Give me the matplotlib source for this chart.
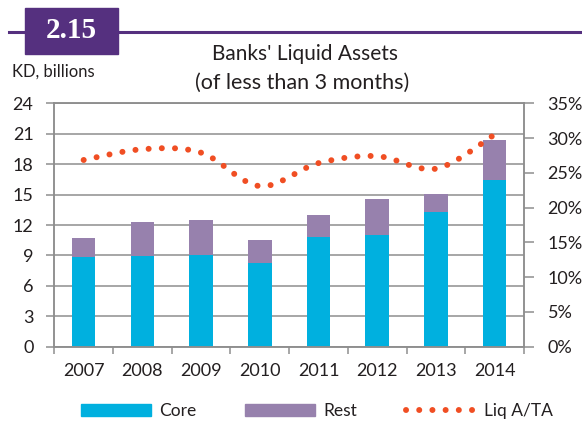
import numpy as np
import matplotlib
matplotlib.use("Agg")
from matplotlib import pyplot as plt
from matplotlib.path import Path
from matplotlib.patches import PathPatch, Patch, Rectangle
from matplotlib.lines import Line2D

plt.rcParams['font.family'] = ['Lato', 'DejaVu Sans']

# data
years = ['2007', '2008', '2009', '2010', '2011', '2012', '2013', '2014']
core = [8.8, 8.97, 9.07, 8.22, 10.82, 10.98, 13.31, 16.4]
rest = [1.9, 3.36, 3.39, 2.33, 2.2, 3.58, 1.71, 3.98]
liq_ratio = [26.85, 28.4, 27.9, 23.1, 26.4, 27.4, 25.6, 30.5]

core_col = '#00B0DF'
rest_col = '#9781AD'
line_col = '#F04E23'
purple = '#55307F'
grid_col = '#8E8E8E'
txt_col = '#231F20'

fig = plt.figure(figsize=(5.82, 4.21), dpi=100)
ax = fig.add_axes([0.0933, 0.1765, 0.9003 - 0.0933, 0.7546 - 0.1765])
ax2 = ax.twinx()

x = np.arange(len(years))
ax.bar(x, core, width=0.4, color=core_col, zorder=2)
ax.bar(x, rest, width=0.4, bottom=core, color=rest_col, zorder=2)

ax.set_xlim(-0.5, 7.5)
ax.set_ylim(0, 24)
ax.set_yticks(np.arange(0, 25, 3))
ax.set_xticks(x)
ax.set_xticklabels(years)
ax.set_xticks(np.arange(-0.5, 8, 1), minor=True)
ax.tick_params(axis='x', which='major', length=0, pad=12, labelsize=13, labelcolor=txt_col)
ax.tick_params(axis='x', which='minor', length=5, width=1.1, color=grid_col, direction='out')
ax.tick_params(axis='y', length=6, width=1.1, color=grid_col, pad=9, labelsize=13, labelcolor=txt_col)
ax.grid(axis='y', color=grid_col, lw=1.1, zorder=0)
ax.set_axisbelow(True)

ax2.set_ylim(0, 35)
ax2.set_yticks(np.arange(0, 36, 5))
ax2.set_yticklabels([f'{v}%' for v in range(0, 36, 5)])
ax2.tick_params(axis='y', length=7, width=1.1, color=grid_col, pad=10, labelsize=13, labelcolor=txt_col)

for a in (ax, ax2):
    for s in a.spines.values():
        s.set_color(grid_col)
        s.set_linewidth(1.1)

# smoothed line (catmull-rom -> bezier, like the excel smoothed line)
pts = np.column_stack([x, liq_ratio]).astype(float)
verts = [pts[0]]
codes = [Path.MOVETO]
for i in range(len(pts) - 1):
    p0 = pts[i - 1] if i > 0 else pts[i]
    p1 = pts[i]
    p2 = pts[i + 1]
    p3 = pts[i + 2] if i + 2 < len(pts) else pts[i + 1]
    c1 = p1 + (p2 - p0) / 6
    c2 = p2 - (p3 - p1) / 6
    verts += [c1, c2, p2]
    codes += [Path.CURVE4] * 3
dot_style = (0, (0.01, 2.2))
curve = PathPatch(Path(verts, codes), fill=False, edgecolor=line_col, lw=4.3,
                  linestyle=dot_style, capstyle='round', zorder=3)
ax2.add_patch(curve)

# header
fig.add_artist(Line2D([9 / 582, 1.0], [1 - 32 / 421] * 2, color=purple, lw=2.2))
fig.add_artist(Rectangle((25 / 582, 1 - 54 / 421), 93 / 582, 46 / 421, color=purple))
fig.text(71.5 / 582, 1 - 31 / 421, '2.15', color='white', fontsize=21, fontweight='bold',
         family='Liberation Serif', ha='center', va='center')
fig.text(12 / 582, 1 - 72 / 421, 'KD, billions', fontsize=12, color=txt_col, ha='left', va='center')
fig.text(305 / 582, 1 - 59.5 / 421, "Banks' Liquid Assets", fontsize=15, color=txt_col,
         ha='center', va='baseline')
fig.text(302 / 582, 1 - 89 / 421, '(of less than 3 months)', fontsize=15.5, color=txt_col,
         ha='center', va='baseline')

handles = [Patch(color=core_col, label='Core'),
           Patch(color=rest_col, label='Rest'),
           Line2D([], [], color=line_col, lw=4.3, linestyle=dot_style,
                  dash_capstyle='round', label='Liq A/TA')]
leg = fig.legend(handles=handles, loc='center', bbox_to_anchor=(0.545, 0.024), ncol=3,
                 frameon=False, fontsize=12.5, handlelength=4.0, handletextpad=0.5,
                 columnspacing=2.8)
for t in leg.get_texts():
    t.set_color(txt_col)

fig.savefig('out.png', dpi=100)
